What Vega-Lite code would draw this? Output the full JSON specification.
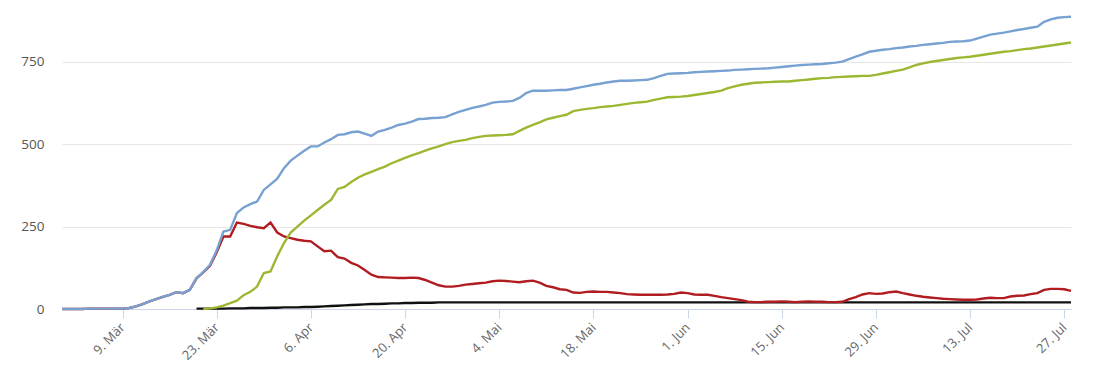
{
  "$schema": "https://vega.github.io/schema/vega-lite/v6.json",
  "width": 1009,
  "height": 309,
  "autosize": {"type": "none"},
  "padding": {"left": 62, "top": 0, "right": 39, "bottom": 62},
  "background": "white",
  "config": {"view": {"stroke": null}, "font": "Open Sans"},
  "data": {"values": [
    {"d":"2020-02-29T00:00","total":0,"active":0,"recovered":null,"deaths":null},
    {"d":"2020-03-01T00:00","total":0,"active":0,"recovered":null,"deaths":null},
    {"d":"2020-03-02T00:00","total":0,"active":0,"recovered":null,"deaths":null},
    {"d":"2020-03-03T00:00","total":0,"active":0,"recovered":null,"deaths":null},
    {"d":"2020-03-04T00:00","total":1,"active":1,"recovered":null,"deaths":null},
    {"d":"2020-03-05T00:00","total":1,"active":1,"recovered":null,"deaths":null},
    {"d":"2020-03-06T00:00","total":1,"active":1,"recovered":null,"deaths":null},
    {"d":"2020-03-07T00:00","total":1,"active":1,"recovered":null,"deaths":null},
    {"d":"2020-03-08T00:00","total":1,"active":1,"recovered":null,"deaths":null},
    {"d":"2020-03-09T00:00","total":1,"active":1,"recovered":null,"deaths":null},
    {"d":"2020-03-10T00:00","total":3,"active":3,"recovered":null,"deaths":null},
    {"d":"2020-03-11T00:00","total":8,"active":8,"recovered":null,"deaths":null},
    {"d":"2020-03-12T00:00","total":15,"active":15,"recovered":null,"deaths":null},
    {"d":"2020-03-13T00:00","total":23,"active":23,"recovered":null,"deaths":null},
    {"d":"2020-03-14T00:00","total":30,"active":30,"recovered":null,"deaths":null},
    {"d":"2020-03-15T00:00","total":37,"active":37,"recovered":null,"deaths":null},
    {"d":"2020-03-16T00:00","total":43,"active":43,"recovered":null,"deaths":null},
    {"d":"2020-03-17T00:00","total":51,"active":51,"recovered":null,"deaths":null},
    {"d":"2020-03-18T00:00","total":48,"active":48,"recovered":null,"deaths":null},
    {"d":"2020-03-19T00:00","total":58,"active":58,"recovered":null,"deaths":null},
    {"d":"2020-03-20T00:00","total":94,"active":93,"recovered":null,"deaths":1},
    {"d":"2020-03-21T00:00","total":112,"active":111,"recovered":0,"deaths":1},
    {"d":"2020-03-22T00:00","total":134,"active":131,"recovered":2,"deaths":1},
    {"d":"2020-03-23T00:00","total":178,"active":172,"recovered":5,"deaths":1},
    {"d":"2020-03-24T00:00","total":235,"active":220,"recovered":10,"deaths":1},
    {"d":"2020-03-25T00:00","total":240,"active":220,"recovered":18,"deaths":2},
    {"d":"2020-03-26T00:00","total":291,"active":262,"recovered":25,"deaths":2},
    {"d":"2020-03-27T00:00","total":308,"active":258,"recovered":42,"deaths":2},
    {"d":"2020-03-28T00:00","total":318,"active":252,"recovered":52,"deaths":3},
    {"d":"2020-03-29T00:00","total":326,"active":248,"recovered":68,"deaths":3},
    {"d":"2020-03-30T00:00","total":361,"active":245,"recovered":109,"deaths":3},
    {"d":"2020-03-31T00:00","total":378,"active":262,"recovered":114,"deaths":4},
    {"d":"2020-04-01T00:00","total":395,"active":232,"recovered":160,"deaths":4},
    {"d":"2020-04-02T00:00","total":427,"active":220,"recovered":200,"deaths":5},
    {"d":"2020-04-03T00:00","total":450,"active":215,"recovered":232,"deaths":5},
    {"d":"2020-04-04T00:00","total":465,"active":210,"recovered":250,"deaths":5},
    {"d":"2020-04-05T00:00","total":480,"active":207,"recovered":268,"deaths":6},
    {"d":"2020-04-06T00:00","total":493,"active":205,"recovered":284,"deaths":6},
    {"d":"2020-04-07T00:00","total":493,"active":190,"recovered":300,"deaths":7},
    {"d":"2020-04-08T00:00","total":505,"active":175,"recovered":316,"deaths":8},
    {"d":"2020-04-09T00:00","total":515,"active":177,"recovered":331,"deaths":9},
    {"d":"2020-04-10T00:00","total":528,"active":157,"recovered":364,"deaths":10},
    {"d":"2020-04-11T00:00","total":530,"active":153,"recovered":370,"deaths":11},
    {"d":"2020-04-12T00:00","total":536,"active":140,"recovered":385,"deaths":12},
    {"d":"2020-04-13T00:00","total":538,"active":132,"recovered":398,"deaths":13},
    {"d":"2020-04-14T00:00","total":532,"active":118,"recovered":408,"deaths":14},
    {"d":"2020-04-15T00:00","total":525,"active":104,"recovered":416,"deaths":15},
    {"d":"2020-04-16T00:00","total":538,"active":97,"recovered":424,"deaths":15},
    {"d":"2020-04-17T00:00","total":543,"active":96,"recovered":432,"deaths":16},
    {"d":"2020-04-18T00:00","total":550,"active":95,"recovered":442,"deaths":17},
    {"d":"2020-04-19T00:00","total":558,"active":94,"recovered":450,"deaths":17},
    {"d":"2020-04-20T00:00","total":562,"active":94,"recovered":458,"deaths":18},
    {"d":"2020-04-21T00:00","total":568,"active":95,"recovered":466,"deaths":18},
    {"d":"2020-04-22T00:00","total":576,"active":94,"recovered":473,"deaths":19},
    {"d":"2020-04-23T00:00","total":577,"active":88,"recovered":480,"deaths":19},
    {"d":"2020-04-24T00:00","total":579,"active":80,"recovered":487,"deaths":19},
    {"d":"2020-04-25T00:00","total":580,"active":72,"recovered":493,"deaths":20},
    {"d":"2020-04-26T00:00","total":582,"active":68,"recovered":500,"deaths":20},
    {"d":"2020-04-27T00:00","total":590,"active":68,"recovered":506,"deaths":20},
    {"d":"2020-04-28T00:00","total":598,"active":70,"recovered":510,"deaths":20},
    {"d":"2020-04-29T00:00","total":604,"active":74,"recovered":513,"deaths":20},
    {"d":"2020-04-30T00:00","total":610,"active":76,"recovered":518,"deaths":20},
    {"d":"2020-05-01T00:00","total":614,"active":78,"recovered":522,"deaths":20},
    {"d":"2020-05-02T00:00","total":619,"active":80,"recovered":525,"deaths":20},
    {"d":"2020-05-03T00:00","total":626,"active":84,"recovered":526,"deaths":20},
    {"d":"2020-05-04T00:00","total":628,"active":86,"recovered":527,"deaths":20},
    {"d":"2020-05-05T00:00","total":629,"active":85,"recovered":528,"deaths":20},
    {"d":"2020-05-06T00:00","total":631,"active":83,"recovered":530,"deaths":20},
    {"d":"2020-05-07T00:00","total":640,"active":81,"recovered":540,"deaths":20},
    {"d":"2020-05-08T00:00","total":655,"active":84,"recovered":550,"deaths":20},
    {"d":"2020-05-09T00:00","total":662,"active":86,"recovered":558,"deaths":20},
    {"d":"2020-05-10T00:00","total":662,"active":80,"recovered":566,"deaths":20},
    {"d":"2020-05-11T00:00","total":662,"active":70,"recovered":575,"deaths":20},
    {"d":"2020-05-12T00:00","total":663,"active":66,"recovered":580,"deaths":20},
    {"d":"2020-05-13T00:00","total":664,"active":60,"recovered":585,"deaths":20},
    {"d":"2020-05-14T00:00","total":664,"active":58,"recovered":589,"deaths":20},
    {"d":"2020-05-15T00:00","total":668,"active":50,"recovered":600,"deaths":20},
    {"d":"2020-05-16T00:00","total":672,"active":49,"recovered":604,"deaths":20},
    {"d":"2020-05-17T00:00","total":676,"active":52,"recovered":607,"deaths":20},
    {"d":"2020-05-18T00:00","total":680,"active":53,"recovered":609,"deaths":20},
    {"d":"2020-05-19T00:00","total":683,"active":52,"recovered":612,"deaths":20},
    {"d":"2020-05-20T00:00","total":687,"active":52,"recovered":614,"deaths":20},
    {"d":"2020-05-21T00:00","total":690,"active":50,"recovered":616,"deaths":20},
    {"d":"2020-05-22T00:00","total":692,"active":48,"recovered":619,"deaths":20},
    {"d":"2020-05-23T00:00","total":692,"active":45,"recovered":622,"deaths":20},
    {"d":"2020-05-24T00:00","total":693,"active":44,"recovered":625,"deaths":20},
    {"d":"2020-05-25T00:00","total":694,"active":43,"recovered":627,"deaths":20},
    {"d":"2020-05-26T00:00","total":695,"active":43,"recovered":629,"deaths":20},
    {"d":"2020-05-27T00:00","total":700,"active":43,"recovered":634,"deaths":20},
    {"d":"2020-05-28T00:00","total":707,"active":43,"recovered":638,"deaths":20},
    {"d":"2020-05-29T00:00","total":713,"active":44,"recovered":642,"deaths":20},
    {"d":"2020-05-30T00:00","total":714,"active":46,"recovered":643,"deaths":20},
    {"d":"2020-05-31T00:00","total":715,"active":50,"recovered":644,"deaths":20},
    {"d":"2020-06-01T00:00","total":716,"active":48,"recovered":646,"deaths":20},
    {"d":"2020-06-02T00:00","total":718,"active":44,"recovered":649,"deaths":20},
    {"d":"2020-06-03T00:00","total":719,"active":43,"recovered":652,"deaths":20},
    {"d":"2020-06-04T00:00","total":720,"active":43,"recovered":655,"deaths":20},
    {"d":"2020-06-05T00:00","total":721,"active":40,"recovered":658,"deaths":20},
    {"d":"2020-06-06T00:00","total":722,"active":36,"recovered":662,"deaths":20},
    {"d":"2020-06-07T00:00","total":723,"active":33,"recovered":670,"deaths":20},
    {"d":"2020-06-08T00:00","total":725,"active":30,"recovered":675,"deaths":20},
    {"d":"2020-06-09T00:00","total":726,"active":27,"recovered":680,"deaths":20},
    {"d":"2020-06-10T00:00","total":727,"active":22,"recovered":683,"deaths":20},
    {"d":"2020-06-11T00:00","total":728,"active":21,"recovered":686,"deaths":20},
    {"d":"2020-06-12T00:00","total":729,"active":21,"recovered":687,"deaths":20},
    {"d":"2020-06-13T00:00","total":730,"active":22,"recovered":688,"deaths":20},
    {"d":"2020-06-14T00:00","total":732,"active":22,"recovered":689,"deaths":20},
    {"d":"2020-06-15T00:00","total":734,"active":23,"recovered":690,"deaths":20},
    {"d":"2020-06-16T00:00","total":736,"active":22,"recovered":690,"deaths":20},
    {"d":"2020-06-17T00:00","total":738,"active":21,"recovered":692,"deaths":20},
    {"d":"2020-06-18T00:00","total":740,"active":22,"recovered":694,"deaths":20},
    {"d":"2020-06-19T00:00","total":741,"active":23,"recovered":696,"deaths":20},
    {"d":"2020-06-20T00:00","total":742,"active":22,"recovered":698,"deaths":20},
    {"d":"2020-06-21T00:00","total":743,"active":22,"recovered":700,"deaths":20},
    {"d":"2020-06-22T00:00","total":745,"active":21,"recovered":701,"deaths":20},
    {"d":"2020-06-23T00:00","total":747,"active":21,"recovered":703,"deaths":20},
    {"d":"2020-06-24T00:00","total":750,"active":22,"recovered":704,"deaths":20},
    {"d":"2020-06-25T00:00","total":758,"active":30,"recovered":705,"deaths":20},
    {"d":"2020-06-26T00:00","total":765,"active":36,"recovered":706,"deaths":20},
    {"d":"2020-06-27T00:00","total":772,"active":44,"recovered":707,"deaths":20},
    {"d":"2020-06-28T00:00","total":780,"active":48,"recovered":707,"deaths":20},
    {"d":"2020-06-29T00:00","total":783,"active":46,"recovered":710,"deaths":20},
    {"d":"2020-06-30T00:00","total":786,"active":47,"recovered":714,"deaths":20},
    {"d":"2020-07-01T00:00","total":788,"active":51,"recovered":718,"deaths":20},
    {"d":"2020-07-02T00:00","total":791,"active":53,"recovered":722,"deaths":20},
    {"d":"2020-07-03T00:00","total":793,"active":48,"recovered":726,"deaths":20},
    {"d":"2020-07-04T00:00","total":796,"active":44,"recovered":733,"deaths":20},
    {"d":"2020-07-05T00:00","total":798,"active":40,"recovered":740,"deaths":20},
    {"d":"2020-07-06T00:00","total":801,"active":37,"recovered":745,"deaths":20},
    {"d":"2020-07-07T00:00","total":803,"active":35,"recovered":749,"deaths":20},
    {"d":"2020-07-08T00:00","total":805,"active":33,"recovered":752,"deaths":20},
    {"d":"2020-07-09T00:00","total":807,"active":31,"recovered":755,"deaths":20},
    {"d":"2020-07-10T00:00","total":810,"active":30,"recovered":758,"deaths":20},
    {"d":"2020-07-11T00:00","total":811,"active":29,"recovered":761,"deaths":20},
    {"d":"2020-07-12T00:00","total":812,"active":28,"recovered":763,"deaths":20},
    {"d":"2020-07-13T00:00","total":814,"active":28,"recovered":765,"deaths":20},
    {"d":"2020-07-14T00:00","total":820,"active":29,"recovered":768,"deaths":20},
    {"d":"2020-07-15T00:00","total":826,"active":32,"recovered":771,"deaths":20},
    {"d":"2020-07-16T00:00","total":832,"active":34,"recovered":774,"deaths":20},
    {"d":"2020-07-17T00:00","total":835,"active":33,"recovered":777,"deaths":20},
    {"d":"2020-07-18T00:00","total":838,"active":33,"recovered":780,"deaths":20},
    {"d":"2020-07-19T00:00","total":842,"active":38,"recovered":782,"deaths":20},
    {"d":"2020-07-20T00:00","total":846,"active":40,"recovered":785,"deaths":20},
    {"d":"2020-07-21T00:00","total":849,"active":41,"recovered":788,"deaths":20},
    {"d":"2020-07-22T00:00","total":853,"active":45,"recovered":790,"deaths":20},
    {"d":"2020-07-23T00:00","total":856,"active":48,"recovered":793,"deaths":20},
    {"d":"2020-07-24T00:00","total":871,"active":58,"recovered":796,"deaths":20},
    {"d":"2020-07-25T00:00","total":878,"active":61,"recovered":799,"deaths":20},
    {"d":"2020-07-26T00:00","total":883,"active":61,"recovered":802,"deaths":20},
    {"d":"2020-07-27T00:00","total":885,"active":60,"recovered":805,"deaths":20},
    {"d":"2020-07-28T00:00","total":886,"active":55,"recovered":808,"deaths":20}
  ]},
  "transform": [{"fold": ["deaths", "active", "recovered", "total"], "as": ["series", "value"]}],
  "encoding": {
    "x": {
      "field": "d",
      "type": "temporal",
      "scale": {"domain": [{"year": 2020, "month": 2, "date": 29}, {"year": 2020, "month": 7, "date": 28}]},
      "axis": {
        "title": null,
        "grid": false,
        "values": [
          {"year": 2020, "month": 3, "date": 9},
          {"year": 2020, "month": 3, "date": 23},
          {"year": 2020, "month": 4, "date": 6},
          {"year": 2020, "month": 4, "date": 20},
          {"year": 2020, "month": 5, "date": 4},
          {"year": 2020, "month": 5, "date": 18},
          {"year": 2020, "month": 6, "date": 1},
          {"year": 2020, "month": 6, "date": 15},
          {"year": 2020, "month": 6, "date": 29},
          {"year": 2020, "month": 7, "date": 13},
          {"year": 2020, "month": 7, "date": 27}
        ],
        "labelExpr": "date(datum.value) + '. ' + ['Jan','Feb','Mär','Apr','Mai','Jun','Jul','Aug','Sep'][month(datum.value)]",
        "labelAngle": -45,
        "labelAlign": "right",
        "labelBaseline": "middle",
        "labelPadding": 7,
        "labelColor": "#666666",
        "labelFontSize": 13,
        "domainColor": "#ccd6eb",
        "tickColor": "#ccd6eb",
        "tickSize": 9,
        "labelOverlap": false,
        "labelFlush": false
      }
    },
    "y": {
      "field": "value",
      "type": "quantitative",
      "scale": {"domain": [0, 937], "nice": false},
      "axis": {
        "title": null,
        "values": [0, 250, 500, 750],
        "domain": false,
        "ticks": false,
        "gridColor": "#e6e6e6",
        "labelColor": "#555555",
        "labelFontSize": 13.5,
        "labelPadding": 18
      }
    }
  },
  "layer": [
    {"transform": [{"filter": "datum.series === 'deaths'"}], "mark": {"type": "line", "color": "#111111", "strokeWidth": 2.4}},
    {"transform": [{"filter": "datum.series === 'active'"}], "mark": {"type": "line", "color": "#b01c1f", "strokeWidth": 2.4}},
    {"transform": [{"filter": "datum.series === 'recovered'"}], "mark": {"type": "line", "color": "#9cb832", "strokeWidth": 2.4}},
    {"transform": [{"filter": "datum.series === 'total'"}], "mark": {"type": "line", "color": "#77a1d1", "strokeWidth": 2.4}}
  ]
}
